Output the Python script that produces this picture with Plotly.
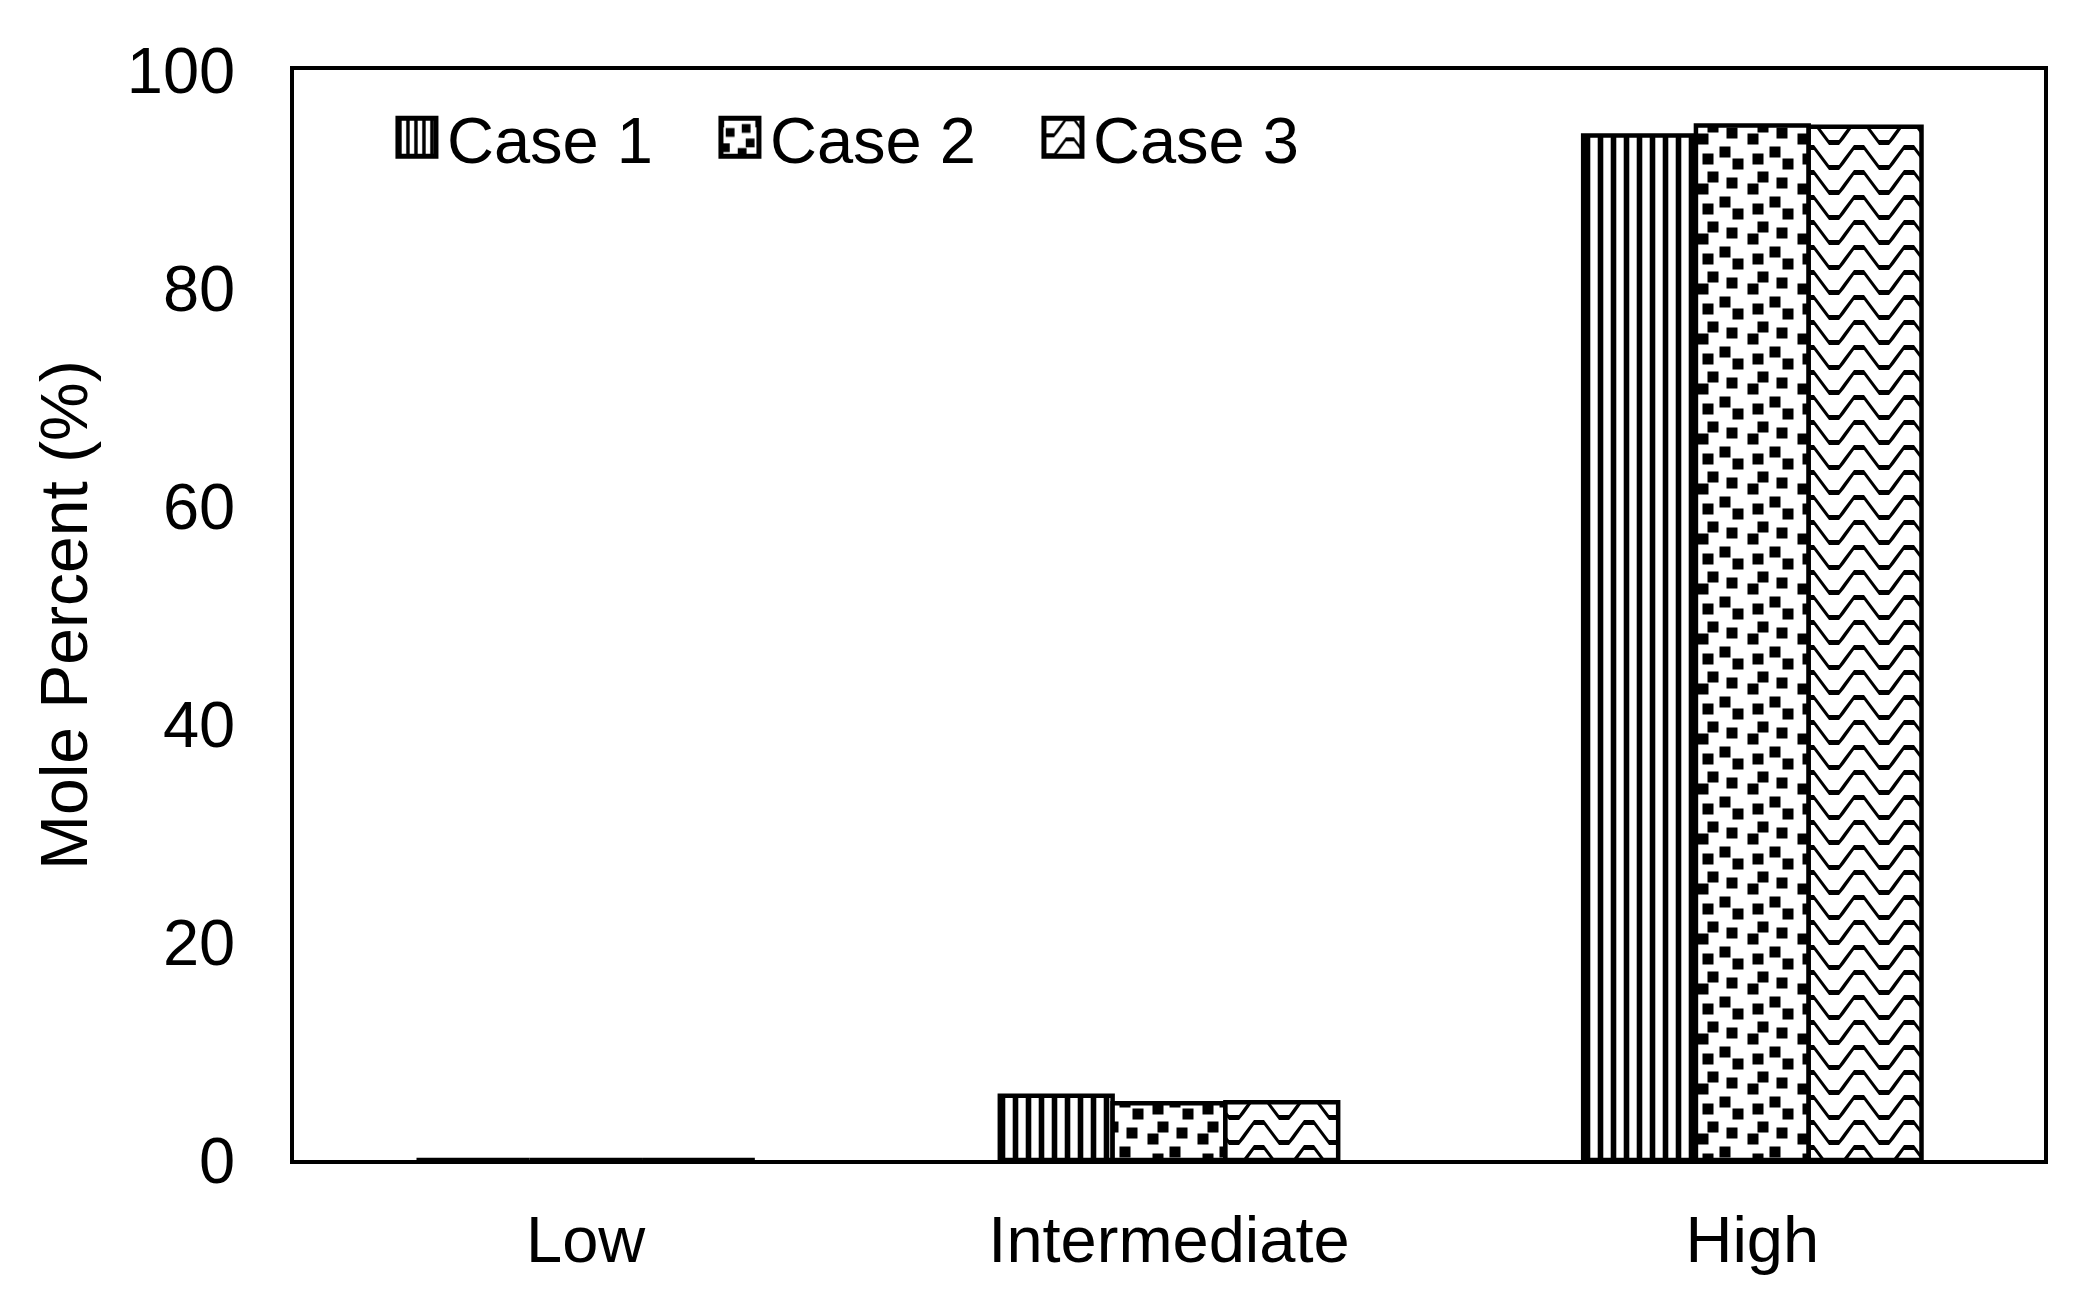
import plotly.graph_objects as go
from plotly.graph_objs.bar.marker import Pattern

categories = ["Low", "Intermediate", "High"]
series_names = ["Case 1", "Case 2", "Case 3"]
case1 = [0, 5.9, 94.0]
case2 = [0, 5.2, 94.9]
case3 = [0, 5.3, 94.8]
y_ticks = [0, 20, 40, 60, 80, 100]
y_title = "Mole Percent (%)"

FONT = "Liberation Sans, Arial, sans-serif"
HAS_PATH = "path" in getattr(Pattern, "_valid_props", set())

# custom pattern tiles (50 x 50)
def _sq(cx, cy, h=5.5):
    return f"M{cx-h},{cy-h}H{cx+h}V{cy+h}H{cx-h}Z"

confetti = "".join(_sq(cx, cy) for cx, cy in [(38, 13), (19, 7), (9, 19), (31, 32), (44, 44), (14, 39)])

def _wave(y0):
    top = [(0, 13.0), (10, 0), (20, 0), (35, 20), (45, 20), (50, 13.0)]
    bot = [(50, 19.0), (45, 25), (35, 25), (20, 5), (10, 5), (0, 19.0)]
    pts = top + bot
    return "M" + "L".join(f"{x},{y + y0}" for x, y in pts) + "Z"

wave = _wave(0) + _wave(25)

def pattern_for(i):
    base = dict(fgcolor="black", bgcolor="white", fillmode="overlay", fgopacity=1)
    if i == 0:
        return dict(shape="|", size=13, solidity=0.43, **base)
    if HAS_PATH:
        return dict(path=confetti if i == 1 else wave, size=50, **base)
    if i == 1:
        return dict(shape=".", size=17, solidity=0.3, **base)
    return dict(shape="x", size=20, solidity=0.12, **base)

fig = go.Figure()
for i, (name, vals) in enumerate(zip(series_names, [case1, case2, case3])):
    fig.add_trace(go.Bar(
        x=categories, y=vals, name=name,
        marker=dict(color="white", line=dict(color="black", width=4.5),
                    pattern=pattern_for(i)),
    ))

fig.update_layout(
    width=2084, height=1292,
    margin=dict(l=286, r=48, t=62, b=140, autoexpand=False),
    paper_bgcolor="white", plot_bgcolor="white",
    font=dict(family=FONT, size=65, color="black"),
    barmode="group", bargap=0.42, bargroupgap=0,
    showlegend=True,
    legend=dict(orientation="h", x=0.0474, xanchor="left", y=0.938, yanchor="middle",
                bgcolor="rgba(0,0,0,0)", font=dict(family=FONT, size=65, color="black"),
                itemwidth=60, entrywidth=248, entrywidthmode="pixels",
                traceorder="normal"),
)
fig.update_xaxes(showline=True, mirror=True, linecolor="black", linewidth=3.5,
                 ticks="", showgrid=False, zeroline=False, ticklabelstandoff=20,
                 tickfont=dict(family=FONT, size=65, color="black"))
fig.update_yaxes(range=[0, 100], tickvals=y_ticks, showline=True, mirror=True,
                 linecolor="black", linewidth=3.5, ticks="", showgrid=False,
                 zeroline=False, ticklabelstandoff=42,
                 tickfont=dict(family=FONT, size=65, color="black"))
fig.add_annotation(text=y_title, xref="paper", yref="paper", x=-0.1314,
                   y=0.5, xanchor="center", yanchor="middle", textangle=-90,
                   showarrow=False, font=dict(family=FONT, size=66, color="black"))

post = """
var gd = document.getElementById('{plot_id}');
function bigSwatches(){
  gd.querySelectorAll('g.legend g.traces').forEach(function(g){
    var d = g.__data__;
    var tr = d && d[0] && d[0].trace;
    var sz = tr && tr.marker && tr.marker.pattern && tr.marker.pattern.size;
    g.querySelectorAll('g.legendpoints path').forEach(function(p){
      p.setAttribute('d', 'M24,19H-14V-19H24Z');
      p.style.strokeWidth = '5px';
      p.style.stroke = 'rgb(0,0,0)';
      var f = p.style.fill || p.getAttribute('fill') || '';
      var m = f.match(/#([^"')]+)/);
      if (m && sz && sz > 20) {
        var pat = document.getElementById(m[1]);
        if (pat) {
          pat.setAttribute('width', sz);
          pat.setAttribute('height', sz);
          var r = pat.querySelector('rect');
          if (r) { r.setAttribute('width', sz); r.setAttribute('height', sz); }
        }
      }
    });
  });
}
bigSwatches();
gd.on('plotly_afterplot', bigSwatches);
"""

fig.write_html("out.html", post_script=post)
